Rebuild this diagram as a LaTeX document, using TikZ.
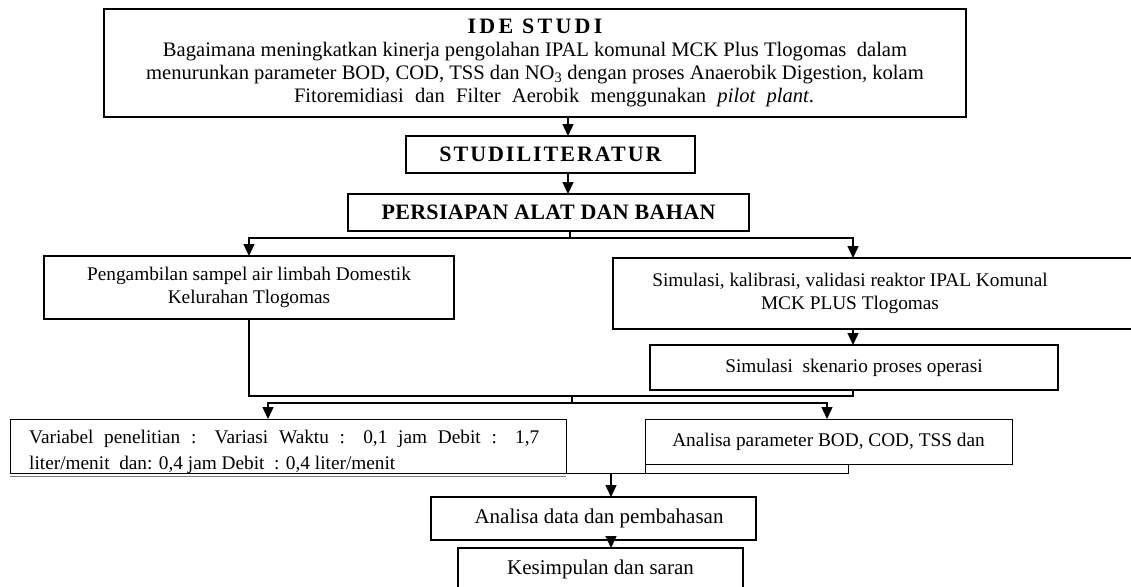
\documentclass[tikz,border=0pt]{standalone}
\usepackage{fontspec}
\setmainfont{Liberation Serif}
\usetikzlibrary{arrows.meta}
\newcommand\bodyfont{\fontsize{19.3}{23}\selectfont}
\newcommand\bigfont{\fontsize{20.6}{23}\selectfont}
\newcommand\lowfont{\fontsize{21}{24}\selectfont}
\newcommand\headfont[1]{\bfseries\fontsize{22}{24}\selectfont\addfontfeature{LetterSpace=#1}}
\begin{document}
\begin{tikzpicture}[x=1pt,y=-1pt,
  box/.style={draw, line width=1.4pt, inner sep=0pt, outer sep=0pt, font=\bodyfont, align=center},
  thinbox/.style={box, line width=1pt},
  ln/.style={line width=1.4pt},
  arr/.style={line width=1.4pt, -{Triangle[width=11pt,length=12pt]}},
  txt/.style={inner sep=0pt, font=\bodyfont, align=center}]
\useasboundingbox (0,0) rectangle (1131,586);
\clip (0,0) rectangle (1131,586);
% boxes
\node[box, line width=1.8pt, minimum width=862, minimum height=108, font=\bigfont] (b1) at (535,63)
  {{\headfont{15}IDE STUDI}\\
   Bagaimana meningkatkan kinerja pengolahan IPAL komunal MCK Plus Tlogomas\ \ dalam\\
   menurunkan parameter BOD, COD, TSS dan NO\textsubscript{3} dengan proses Anaerobik Digestion, kolam\\
   \hspace*{38pt}\makebox[520pt][s]{Fitoremidiasi dan Filter Aerobik menggunakan \textit{pilot plant}.}};
\node[box, minimum width=289, minimum height=37] (b2) at (550.5,154.5)
  {\headfont{9}STUDILITERATUR};
\node[box, minimum width=401, minimum height=37] (b3) at (548.5,212.5)
  {\headfont{1.5}PERSIAPAN ALAT DAN BAHAN};
\node[box, minimum width=410, minimum height=63] (b4) at (249,287.5)
  {Pengambilan sampel air limbah Domestik\\Kelurahan Tlogomas};
\node[box, minimum width=527, minimum height=71] (b5) at (876.5,293.5) {};
\node[txt] (b5t) at (850,293.5) {Simulasi, kalibrasi, validasi reaktor IPAL Komunal\\MCK PLUS Tlogomas};
\node[box, minimum width=408, minimum height=45] (b6) at (854,367.5)
  {Simulasi\ \ skenario proses operasi};
\node[thinbox, minimum width=556, minimum height=54] (b7) at (288,446) {};
\node[txt, anchor=base west, align=left] (b7t) at (29,469.5)
  {\makebox[510pt][s]{Variabel penelitian : Variasi Waktu : 0,1 jam Debit : 1,7}\\[3pt]
   liter/menit\ \ dan: 0,4 jam Debit\ \ : 0,4 liter/menit};
\node[thinbox, minimum width=367, minimum height=45] (b8) at (828.5,441.5)
  {Analisa parameter BOD, COD, TSS dan};
\node[box, minimum width=325, minimum height=43, font=\lowfont] (b9) at (593.5,518.5)
  {\hspace*{11pt}Analisa data dan pembahasan};
\node[box, minimum width=285, minimum height=43, font=\lowfont] (b10) at (600.5,569.5)
  {Kesimpulan dan saran};
% x / y guides
\coordinate (x1) at (568,0);
\coordinate (x2) at (570,0);
\coordinate (xl) at (249,0);
\coordinate (xr) at (853,0);
\coordinate (xm) at (572,0);
\coordinate (xl2) at (268,0);
\coordinate (xr2) at (827,0);
\coordinate (xm2) at (611,0);
\coordinate (xr3) at (848,0);
\coordinate (y1) at (0,238);
\coordinate (y2) at (0,396);
\coordinate (y3) at (0,403);
\coordinate (y4) at (0,473);
% connectors
\draw[arr] (b1.south -| x1) -- (b2.north -| x1);
\draw[arr] (b2.south -| x1) -- (b3.north -| x1);
\draw[ln] (b3.south -| x2) -- (x2 |- y1);
\draw[arr] (x2 |- y1) -| (b4.north -| xl);
\draw[arr] (x2 |- y1) -| (b5.north -| xr);
\draw[arr] (b5.south -| xr) -- (b6.north -| xr);
\draw[ln] (b4.south -| xl) |- (xr |- y2) -- (b6.south -| xr);
\draw[ln] (xm |- y2) -- (xm |- y3);
\draw[arr] (xm |- y3) -| (b7.north -| xl2);
\draw[arr] (xm |- y3) -| (b8.north -| xr2);
\draw[ln, line width=1pt] (b7.south east) -- (xr3 |- y4) -- (b8.south -| xr3);
\draw[ln, line width=1pt] (b8.south west) -- (b8.south west |- y4);
\draw[gray, line width=1pt] ([yshift=-3pt]b7.south west) -- ([yshift=-3pt]b7.south east);
\draw[arr] (xm2 |- y4) -- (b9.north -| xm2);
\draw[arr] (b9.south -| xm2) -- (b10.north -| xm2);
\end{tikzpicture}
\end{document}
